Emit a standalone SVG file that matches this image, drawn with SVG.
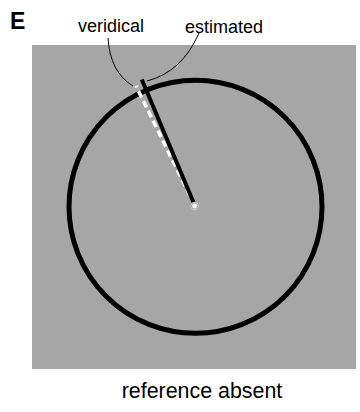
<svg xmlns="http://www.w3.org/2000/svg" width="360" height="412" viewBox="0 0 360 412">
<style>
text{font-family:"Liberation Sans",Arial,sans-serif;fill:#000}
.lbl{font-size:18px}
.leader{fill:none;stroke:#000;stroke-width:1}
</style>
<rect width="360" height="412" fill="#fff"/>
<g id="panel">
<rect x="32" y="45" width="324" height="324" fill="#a6a6a6"/>
<circle cx="195.5" cy="206.8" r="126.5" fill="none" stroke="#000" stroke-width="5"/>
</g>
<g id="connectors">
<path class="leader" d="M108,38 Q110,72 133,86"/>
<path class="leader" d="M199,33 Q182,72 147,81"/>
</g>
<g id="veridical-line">
<line x1="195" y1="206" x2="136" y2="86" stroke="#fff" stroke-width="3.5" stroke-dasharray="7 4"/>
</g>
<g id="estimated-line">
<line x1="195" y1="206" x2="141.8" y2="79.5" stroke="#000" stroke-width="4"/>
</g>
<g id="center">
<circle cx="194.6" cy="206" r="4.2" fill="#c8c8c8"/>
<circle cx="194.6" cy="206" r="3.3" fill="#a6a6a6"/>
<circle cx="194.6" cy="206" r="2.4" fill="#fff"/>
</g>
<text x="10" y="29" font-size="23" font-weight="bold">E</text>
<text id="veridical" class="lbl" x="78" y="32">veridical</text>
<text id="estimated" class="lbl" x="185" y="32.5">estimated</text>
<text x="202" y="398.3" font-size="21.4" text-anchor="middle">reference absent</text>
</svg>
